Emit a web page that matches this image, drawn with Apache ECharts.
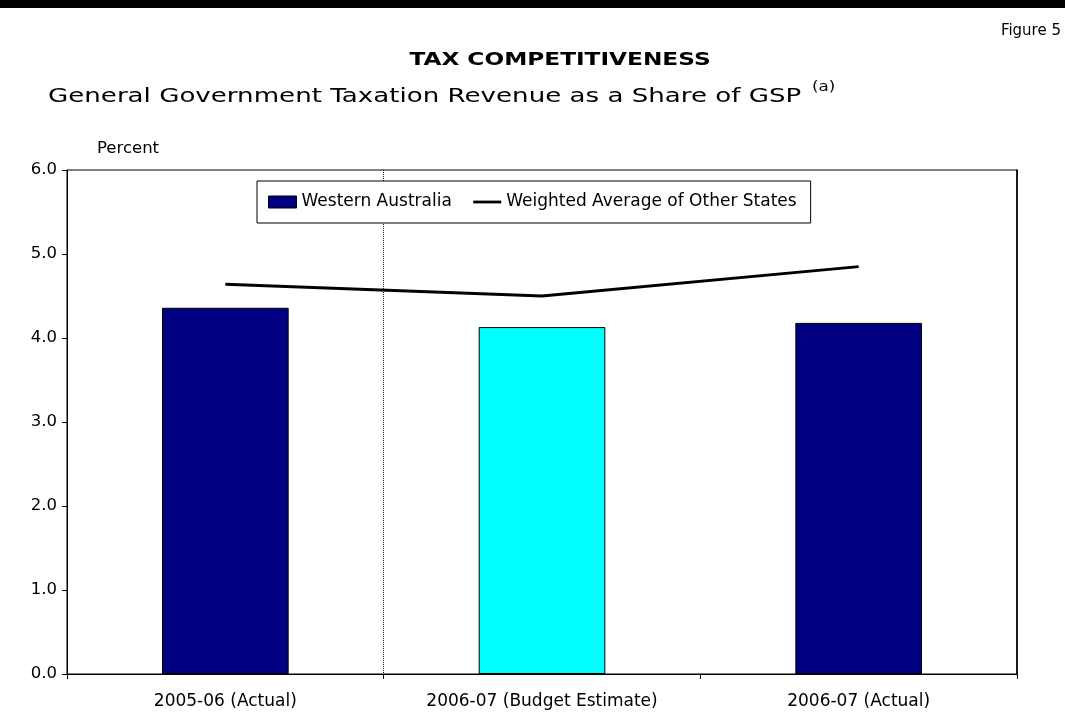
<!DOCTYPE html>
<html>
<head>
<meta charset="utf-8">
<title>Tax Competitiveness</title>
<script src="https://cdn.jsdelivr.net/npm/echarts@6/dist/echarts.min.js"></script>
<style>
  html, body { margin: 0; padding: 0; background: #fff; }
  #chart { width: 1065px; height: 714px; }
</style>
</head>
<body>
<div id="chart"></div>
<script>
// Financial years shown on the category axis
const categories = ['2005-06 (Actual)', '2006-07 (Budget Estimate)', '2006-07 (Actual)'];
// Taxation revenue as a share of GSP, percent
const westernAustralia = [4.36, 4.13, 4.18];
const otherStatesAverage = [4.64, 4.50, 4.85];
// Value axis range
const yMin = 0;
const yMax = 6;
const yStep = 1;

const FONT = 'DejaVu Sans';
const NAVY = '#000080';
const CYAN = '#00FFFF';

const chart = echarts.init(document.getElementById('chart'), null, { renderer: 'canvas' });

// The budget-estimate year is highlighted in cyan
const barData = westernAustralia.map((v, i) => ({
  value: v,
  itemStyle: { color: categories[i].indexOf('Budget') >= 0 ? CYAN : NAVY }
}));

chart.setOption({
  animation: false,
  backgroundColor: '#fff',
  textStyle: { fontFamily: FONT, color: '#000' },
  graphic: [
    { type: 'rect', left: 0, top: 0, shape: { width: 1065, height: 8 }, style: { fill: '#000' }, silent: true },
    { type: 'text', right: 4, top: 24, style: { text: 'Figure 5', font: '15px "DejaVu Sans"', fill: '#000' } },
    { type: 'text', x: 560, y: 60, scaleX: 1.29,
      style: { text: 'TAX COMPETITIVENESS', font: 'bold 18px "DejaVu Sans"', fill: '#000',
               align: 'center', verticalAlign: 'middle' } },
    { type: 'text', x: 48, y: 97, scaleX: 1.305,
      style: { text: 'General Government Taxation Revenue as a Share of GSP', font: '20px "DejaVu Sans"',
               fill: '#000', align: 'left', verticalAlign: 'middle' } },
    { type: 'text', x: 812, y: 87, scaleX: 1.2,
      style: { text: '(a)', font: '14px "DejaVu Sans"', fill: '#000', align: 'left', verticalAlign: 'middle' } }
  ],
  legend: {
    left: 257,
    top: 181,
    padding: [12, 14, 12, 11],
    backgroundColor: '#fff',
    borderColor: '#000',
    borderWidth: 1,
    borderRadius: 0,
    itemWidth: 28,
    itemHeight: 12,
    itemGap: 20,
    textStyle: { fontFamily: FONT, fontSize: 17, color: '#000', lineHeight: 18 },
    data: [
      { name: 'Western Australia', icon: 'rect', itemStyle: { color: NAVY, borderColor: '#000', borderWidth: 1 } },
      { name: 'Weighted Average of Other States',
        itemStyle: { color: 'rgba(0,0,0,0)', borderColor: 'rgba(0,0,0,0)', borderWidth: 0 },
        lineStyle: { color: '#000', width: 2.8 } }
    ]
  },
  grid: {
    left: 67, right: 48, top: 170, bottom: 40,
    show: true, borderColor: '#000', borderWidth: 1, backgroundColor: 'transparent'
  },
  xAxis: {
    type: 'category',
    data: categories,
    boundaryGap: true,
    axisLine: { lineStyle: { color: '#000', width: 1 } },
    axisTick: { show: true, length: 5, lineStyle: { color: '#000' } },
    axisLabel: { fontFamily: FONT, fontSize: 17, color: '#000', margin: 19 },
    // dotted divider after the first year (the edge lines fall under the axis lines)
    splitLine: {
      show: true,
      interval: (idx) => idx === 0 || idx === 1,
      lineStyle: { color: '#222', type: 'dotted', width: 1 }
    }
  },
  yAxis: [
    {
      type: 'value',
      min: yMin,
      max: yMax,
      interval: yStep,
      name: 'Percent',
      nameLocation: 'end',
      nameGap: 13,
      nameTextStyle: { fontFamily: FONT, fontSize: 16.5, color: '#000', align: 'left', padding: [0, 0, 0, 30] },
      axisLine: { show: true, lineStyle: { color: '#000', width: 1 } },
      axisTick: { show: true, length: 5, lineStyle: { color: '#000' } },
      axisLabel: { fontFamily: FONT, fontSize: 16.5, color: '#000', margin: 10, formatter: (v) => v.toFixed(1) },
      splitLine: { show: false },
      z: 5
    },
    {
      // right-hand frame edge of the plot area
      type: 'value',
      position: 'right',
      min: yMin,
      max: yMax,
      interval: yStep,
      axisLine: { show: true, lineStyle: { color: '#000', width: 1.5 } },
      axisTick: { show: false },
      axisLabel: { show: false },
      splitLine: { show: false },
      z: 5
    }
  ],
  series: [
    {
      name: 'Western Australia',
      type: 'bar',
      barWidth: '40%',
      data: barData,
      itemStyle: { color: NAVY, borderColor: '#000', borderWidth: 1 },
      z: 2
    },
    {
      name: 'Weighted Average of Other States',
      type: 'line',
      data: otherStatesAverage,
      symbol: 'none',
      showSymbol: false,
      lineStyle: { color: '#000', width: 2.8 },
      itemStyle: { color: '#000' },
      z: 3
    }
  ]
});
</script>
</body>
</html>
